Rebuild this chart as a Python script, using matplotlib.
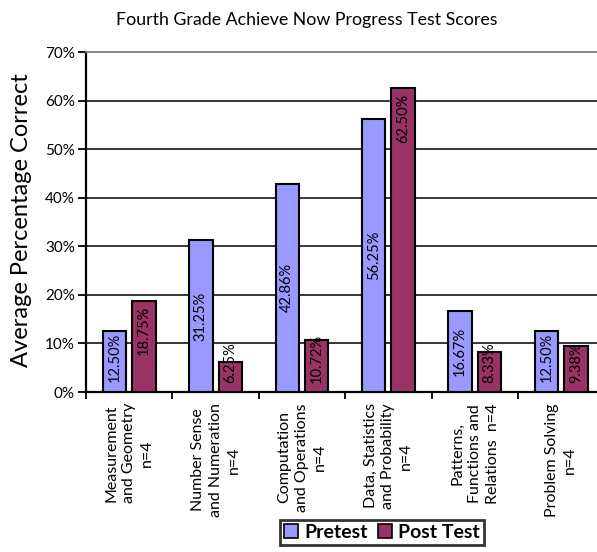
import matplotlib
matplotlib.use("Agg")
import matplotlib.pyplot as plt
import numpy as np
from matplotlib.patches import Patch

plt.rcParams['font.family'] = ['Lato', 'DejaVu Sans']

title = "Fourth Grade Achieve Now Progress Test Scores"
ylabel = "Average Percentage Correct"
categories = [
    "Measurement\nand Geometry\nn=4",
    "Number Sense\nand Numeration\nn=4",
    "Computation\nand Operations\nn=4",
    "Data, Statistics\nand Probability\nn=4",
    "Patterns,\nFunctions and\nRelations  n=4",
    "Problem Solving\nn=4",
]
series_names = ["Pretest", "Post Test"]
pretest = [12.50, 31.25, 42.86, 56.25, 16.67, 12.50]
posttest = [18.75, 6.25, 10.72, 62.50, 8.33, 9.38]
y_ticks = [0, 10, 20, 30, 40, 50, 60, 70]
colors = ["#9999FF", "#993366"]

W, H = 597, 552
fig = plt.figure(figsize=(W / 100, H / 100), dpi=100)
ax = fig.add_axes([86 / W, 1 - 392 / H, 518.4 / W, 340 / H])

x = np.arange(len(categories))
bw = 0.27
off = 0.17
ax.bar(x - off, pretest, bw, color=colors[0], edgecolor="black", linewidth=1.5, zorder=3)
ax.bar(x + off, posttest, bw, color=colors[1], edgecolor="black", linewidth=1.5, zorder=3)

ax.set_xlim(-0.5, len(categories) - 0.5)
ax.set_ylim(0, 70)
ax.set_yticks(y_ticks)
ax.set_yticklabels([f"{t}%" for t in y_ticks], fontsize=11)
for t in y_ticks[1:-1]:
    ax.axhline(t, color="black", linewidth=1.1, zorder=1)

ax.set_xticks(np.arange(-0.5, len(categories), 1))
ax.set_xticklabels([])
ax.set_xticks(x, minor=True)
ax.set_xticklabels(categories, minor=True, rotation=90, va="top", ha="center",
                   multialignment="center", fontsize=11.5, linespacing=1.35)
ax.tick_params(axis="x", which="minor", length=0, pad=8)
ax.tick_params(axis="x", which="major", length=5, width=1.3, direction="out")
ax.tick_params(axis="y", length=6, width=1.3, direction="out", pad=2)

for s in ["left", "bottom"]:
    ax.spines[s].set_linewidth(1.6)
    ax.spines[s].set_color("black")
ax.spines["top"].set_color("#808080")
ax.spines["top"].set_linewidth(1.3)
ax.spines["right"].set_visible(False)

ppu = 340 / 70.0
for xi, v in zip(x, pretest):
    yc = max(v / 2, 7.2)
    ax.text(xi - off, yc, f"{v:.2f}%", rotation=90, ha="center", va="center",
            fontsize=10.5, zorder=4)
for xi, v in zip(x, posttest):
    if v * ppu - 4 >= 58:
        ax.text(xi + off, v - 5 / ppu, f"{v:.2f}%", rotation=90, ha="center", va="top",
                fontsize=10.5, zorder=4)
    else:
        ax.text(xi + off, 9 / ppu, f"{v:.2f}%", rotation=90, ha="center", va="bottom",
                fontsize=10.5, zorder=4)

fig.text(307 / W, 1 - 20 / H, title, ha="center", va="center", fontsize=12.8)
fig.text(22 / W, 1 - 220 / H, ylabel, ha="center", va="center", rotation=90, fontsize=17)

handles = [Patch(facecolor=c, edgecolor="black", linewidth=1.2) for c in colors]
leg = fig.legend(handles, series_names, ncol=2, loc="upper left",
                 bbox_to_anchor=(280 / W, 1 - 520 / H), frameon=True, fancybox=False,
                 edgecolor="black", prop={"weight": "bold", "size": 14},
                 handlelength=0.75, handleheight=0.75, columnspacing=0.5,
                 handletextpad=0.3, borderpad=0.2, borderaxespad=0)
leg.get_frame().set_linewidth(2)

fig.savefig("out.png", dpi=100)
